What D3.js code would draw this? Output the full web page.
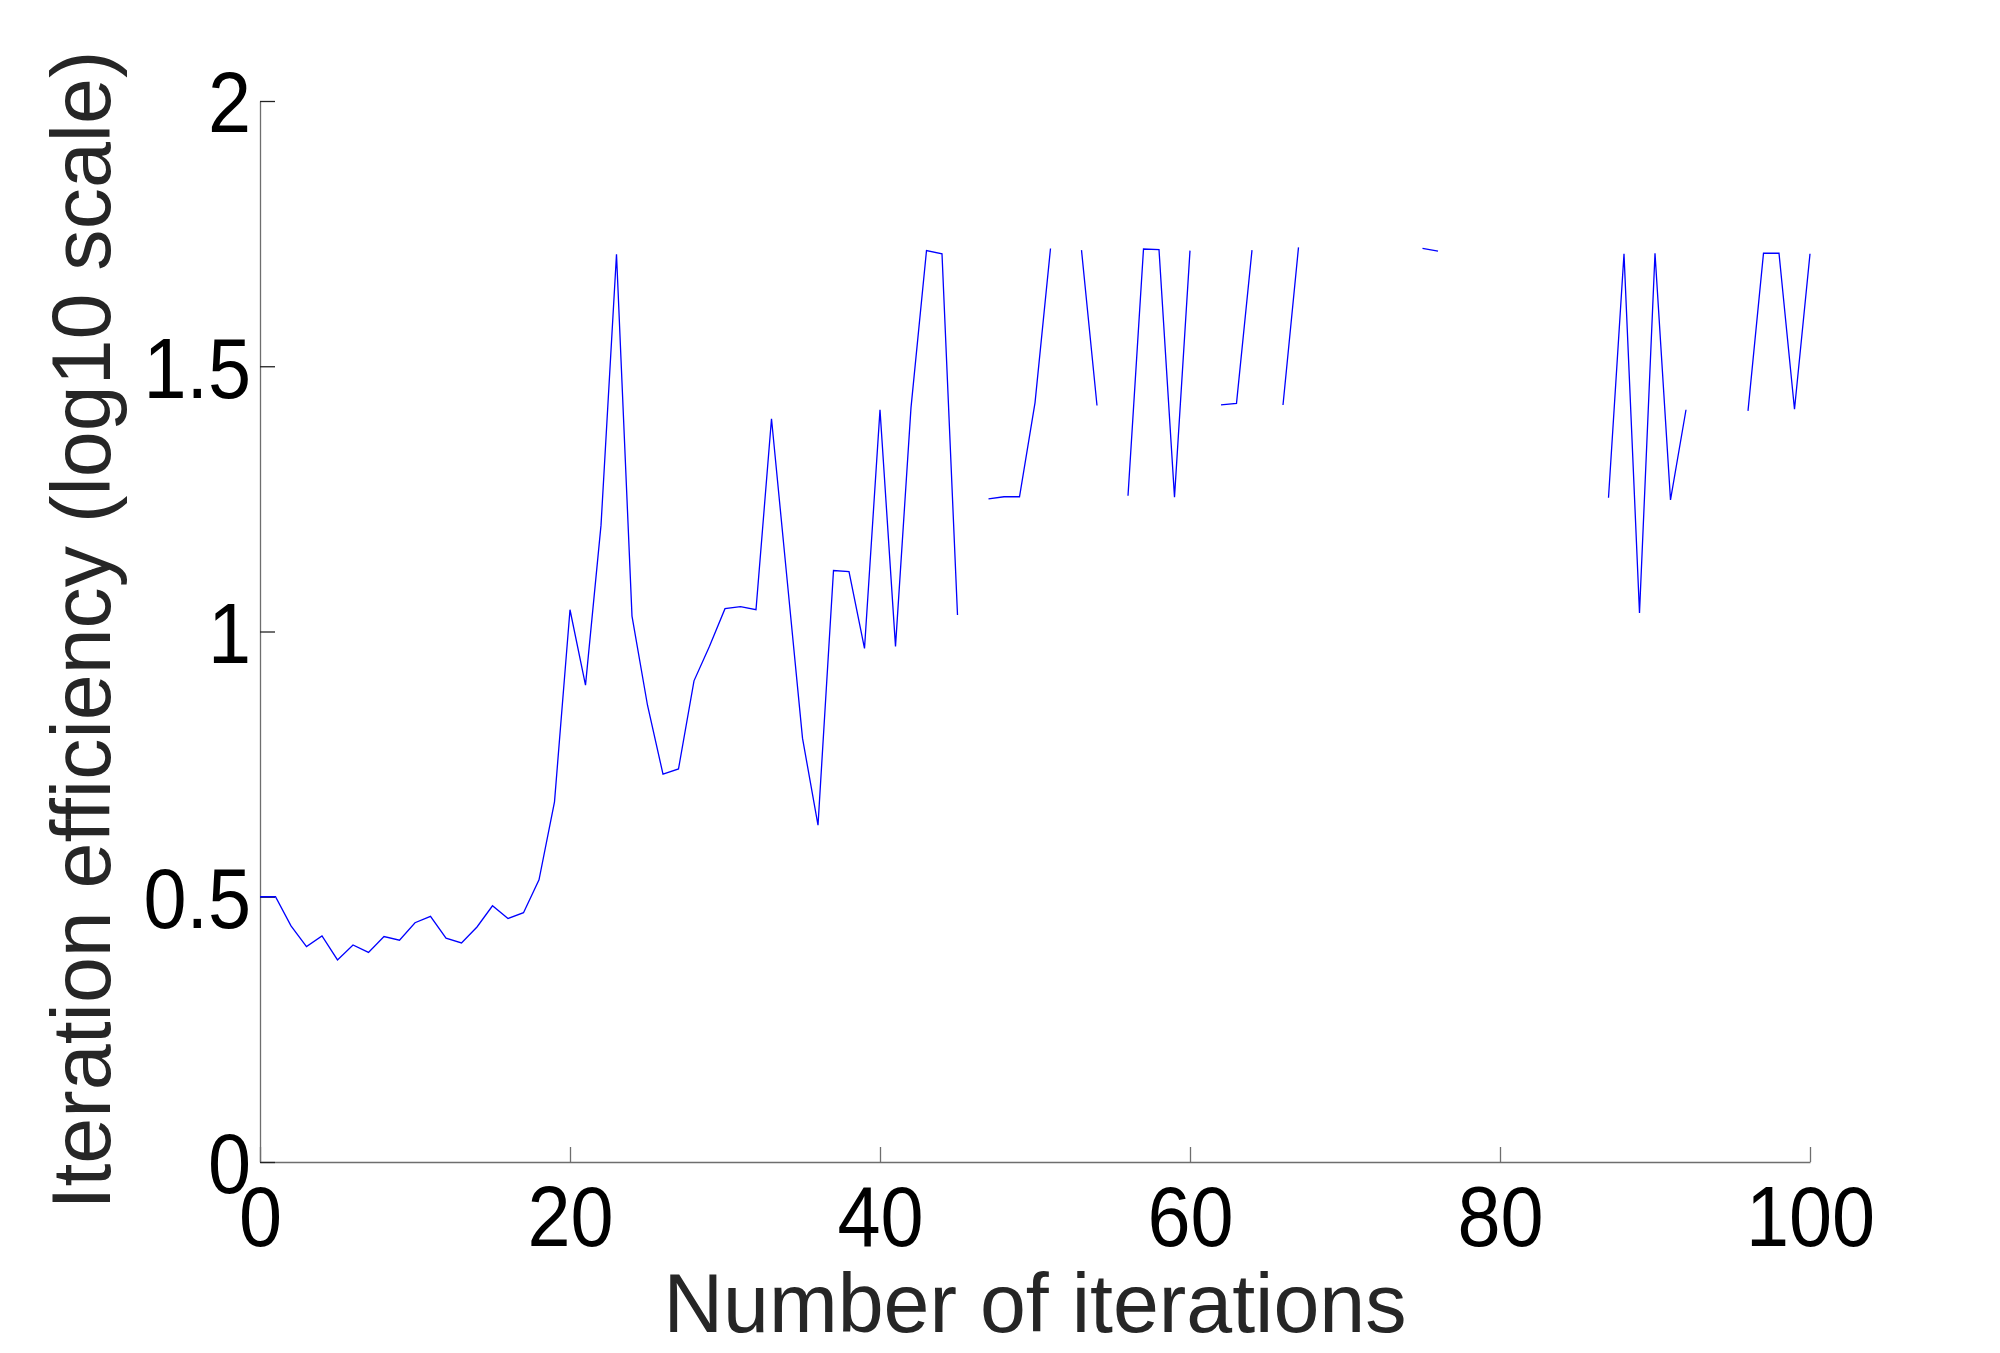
<!DOCTYPE html>
<html lang="en">
<head>
  <meta charset="UTF-8">
  <title>Iteration efficiency</title>
  <script src="https://d3js.org/d3.v7.min.js"></script>
  <style>
    body { margin: 0; background: #fff; }
    text { font-family: "Liberation Sans", Arial, Helvetica, sans-serif; }
  </style>
</head>
<body>
  <script>
    // efficiency per iteration (log10 scale), null = no value (gap in line)
    var efficiency = [
      0.500, 0.500, 0.445, 0.406, 0.426, 0.381, 0.409, 0.395, 0.425, 0.418,
      0.451, 0.463, 0.422, 0.413, 0.443, 0.483, 0.459, 0.470, 0.532, 0.679,
      1.041, 0.899, 1.200, 1.711, 1.029, 0.861, 0.731, 0.741, 0.907, 0.972,
      1.043, 1.047, 1.041, 1.401, 1.100, 0.799, 0.635, 1.115, 1.113, 0.968,
      1.418, 0.972, 1.422, 1.718, 1.712, 1.031, null, 1.250, 1.254, 1.254,
      1.431, 1.722, null, 1.719, 1.426, null, 1.256, 1.721, 1.720, 1.253,
      1.718, null, 1.427, 1.430, 1.719, null, 1.427, 1.724, null, null,
      1.725, null, null, null, null, 1.722, 1.717, null, null, null,
      null, null, null, null, null, null, null, 1.252, 1.712, 1.035,
      1.713, 1.248, 1.418, null, 1.713, null, 1.416, 1.713, 1.713, 1.419,
      1.712
    ];
    var iterations = d3.range(efficiency.length);

    var xTicks = [0, 20, 40, 60, 80, 100];
    var yTicks = [0, 0.5, 1, 1.5, 2];

    var svgWidth = 2000, svgHeight = 1353;
    var plotLeft = 260, plotRight = 1810, plotTop = 101, plotBottom = 1162;

    var svg = d3.select("body")
                .append("svg")
                .attr("width", svgWidth)
                .attr("height", svgHeight);

    var x = d3.scaleLinear().domain([0, 100]).range([plotLeft, plotRight]);
    var y = d3.scaleLinear().domain([0, 2]).range([plotBottom, plotTop]);

    // squeeze tick labels a little, the original font is narrower
    function narrow(sel, f) {
      sel.each(function() {
        var w = this.getComputedTextLength();
        d3.select(this).attr("textLength", w * f).attr("lengthAdjust", "spacingAndGlyphs");
      });
    }

    var xAxis = svg.append("g")
       .attr("transform", "translate(0," + plotBottom + ")")
       .call(d3.axisBottom(x).tickValues(xTicks).tickSizeInner(-15).tickSizeOuter(0).tickFormat(d3.format("d")));
    xAxis.select(".domain").attr("stroke", "#6e6e6e").attr("stroke-width", 1.3);
    xAxis.selectAll(".tick line").attr("stroke", "#6e6e6e").attr("stroke-width", 1.3);
    xAxis.selectAll(".tick text")
         .attr("y", 84).attr("dy", 0)
         .attr("fill", "#000")
         .style("font-size", "86px");
    narrow(xAxis.selectAll(".tick text"), 0.9);

    var yAxis = svg.append("g")
       .attr("transform", "translate(" + plotLeft + ",0)")
       .call(d3.axisLeft(y).tickValues(yTicks).tickSizeInner(-15).tickSizeOuter(0).tickFormat(d => d3.format("")(d)));
    yAxis.select(".domain").attr("stroke", "#6e6e6e").attr("stroke-width", 1.3);
    yAxis.selectAll(".tick line").attr("stroke", "#222").attr("stroke-width", 1.3);
    yAxis.selectAll(".tick text")
         .attr("x", -9).attr("dy", "0.36em")
         .attr("fill", "#000")
         .style("font-size", "86px");
    narrow(yAxis.selectAll(".tick text"), 0.9);

    var line = d3.line()
                 .defined(d => d.v != null)
                 .x(d => x(d.i))
                 .y(d => y(d.v));

    svg.append("path")
       .datum(iterations.map(i => ({ i: i, v: efficiency[i] })))
       .attr("d", line)
       .attr("fill", "none")
       .attr("stroke", "#0000ff")
       .attr("stroke-width", 1.3);

    svg.append("text")
       .attr("x", (plotLeft + plotRight) / 2)
       .attr("y", 1332)
       .attr("text-anchor", "middle")
       .attr("fill", "#262626")
       .attr("textLength", 743)
       .attr("lengthAdjust", "spacingAndGlyphs")
       .style("font-size", "84px")
       .text("Number of iterations");

    svg.append("text")
       .attr("transform", "translate(110,630) rotate(-90)")
       .attr("text-anchor", "middle")
       .attr("fill", "#262626")
       .attr("textLength", 1159)
       .attr("lengthAdjust", "spacingAndGlyphs")
       .style("font-size", "84px")
       .text("Iteration efficiency (log10 scale)");
  </script>
</body>
</html>
